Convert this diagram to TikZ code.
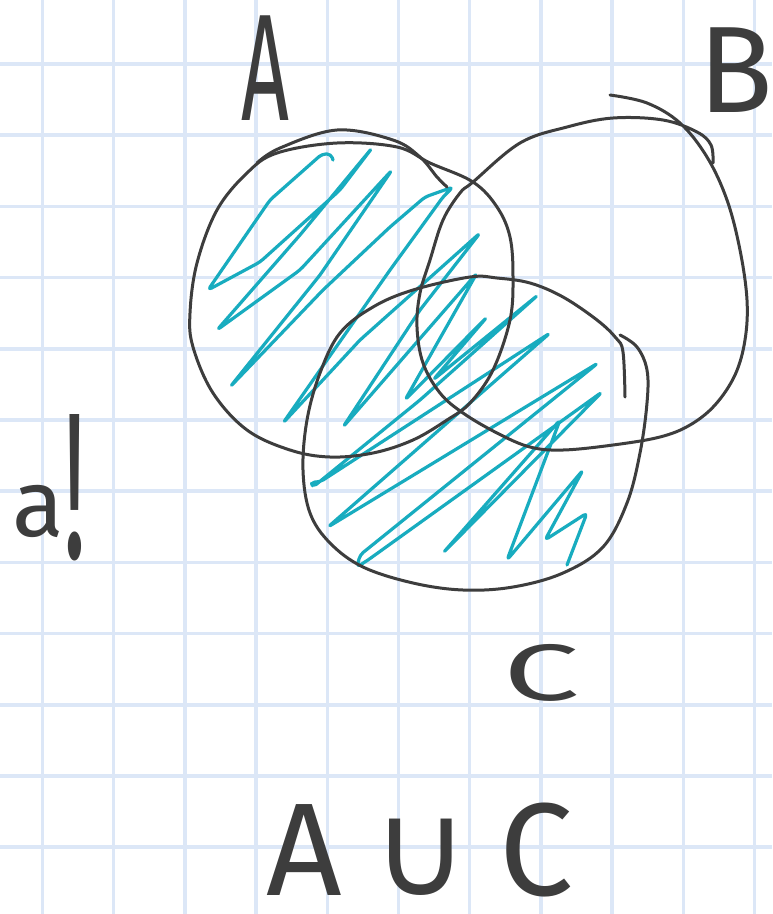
\documentclass[tikz,border=0pt]{standalone}
\usepackage{fontspec}
\newfontfamily\hand{Fira Sans}
\newfontfamily\djv{DejaVu Sans}
\definecolor{gridc}{HTML}{DCE7F7}
\definecolor{ink}{HTML}{3D3D3D}
\definecolor{tealink}{HTML}{18ACBF}
\tikzset{
  gridline/.style={draw=gridc, line width=3.5pt},
  setline/.style={draw=ink, line width=3pt, line cap=round, line join=round},
  hatch/.style={draw=tealink, line width=3.2pt, line cap=round, line join=round, rounded corners=4pt},
  handlabel/.style={text=ink, inner sep=0pt, font=\hand}
}
\begin{document}
\begin{tikzpicture}[x=1pt,y=-1pt]
\useasboundingbox (0,0) rectangle (772,914);
\fill[white] (0,0) rectangle (772,914);
% grid
\foreach \k in {0,...,10} \draw[gridline] ({42.5+71.2*\k},0) -- ({42.5+71.2*\k},914);
\foreach \k in {0,...,11} \draw[gridline] (0,{64+71.2*\k}) -- (772,{64+71.2*\k});
% hatching
\draw[hatch] (333,160) -- (331,154) -- (322,154) -- (270,200) -- (208,290)
  -- (260,262) -- (340,190) -- (372,148)
  -- (300,235) -- (217,330)
  -- (300,270) -- (392,170)
  -- (320,275) -- (230,387)
  -- (323,290) -- (390,227) -- (425,197) -- (453,187)
  -- (443,197) -- (390,270) -- (283,423)
  -- (360,340) -- (480,233)
  -- (420,310) -- (343,427)
  -- (477,273)
  -- (405,400)
  -- (487,317)
  -- (433,380)
  -- (538,295)
  -- (420,400) -- (313,487) -- (311,482)
  -- (320,482) -- (550,333)
  -- (328,527)
  -- (598,363)
  -- (360,555) -- (357,567) -- (368,560)
  -- (602,392)
  -- (443,553)
  -- (560,420)
  -- (507,560)
  -- (583,470)
  -- (545,540)
  -- (587,513)
  -- (567,565);
% circle A
\draw[setline] plot[smooth cycle, tension=0.6] coordinates {
  (277,153) (337,143) (397,147) (430,163) (473,182) (497,207) (510,237) (513,277) (510,320)
  (493,370) (470,403) (447,420) (413,440) (373,453) (330,457) (290,450) (247,430) (213,393)
  (193,347) (190,313) (197,263) (217,210) (247,173)};
\draw[setline] plot[smooth, tension=0.6] coordinates {
  (257,163) (280,148) (337,130) (393,140) (420,157) (437,177) (447,187)};
% circle B
\draw[setline] plot[smooth, tension=0.6] coordinates {
  (610,95) (647,103) (680,123) (707,157) (727,200) (740,250) (747,300) (745,340) (735,375)
  (715,405) (690,425) (660,437) (613,445) (563,450) (530,447) (497,433) (463,413) (440,393)
  (423,363) (417,327) (420,293) (430,260) (443,220) (460,193) (473,182) (520,143) (567,127)
  (613,118) (663,120) (697,132) (711,145) (713,163)};
% circle C
\draw[setline] plot[smooth, tension=0.6] coordinates {
  (625,397) (623,352) (616,338) (597,320) (563,297) (530,283) (497,278) (470,277) (413,290)
  (373,307) (340,333) (320,373) (307,420) (303,470) (310,513) (330,543) (363,567) (413,583)
  (463,590) (513,587) (563,573) (603,547) (627,503) (640,453) (647,403) (647,370) (637,347) (620,335)};
% labels
\node[handlabel, anchor=base] (labA) at (265,120) {\fontsize{152}{152}\selectfont\scalebox{0.55}[1]{A}};
\node[handlabel, anchor=base] (labB) at (736,112) {\fontsize{123}{123}\selectfont B};
\node[handlabel, anchor=base west] (labpart) at (12,558) {\fontsize{95}{95}\selectfont\raisebox{22pt}{a}\scalebox{1}[2.2]{!}};
\node[handlabel, anchor=base] (labC) at (542,700) {\fontsize{80}{80}\selectfont\scalebox{1.7}[1]{C}};
\node[handlabel, anchor=base] (labU) at (420,895) {\fontsize{132}{132}\selectfont A\hspace{30pt}{\djv ∪}\hspace{30pt}C};
\end{tikzpicture}
\end{document}
